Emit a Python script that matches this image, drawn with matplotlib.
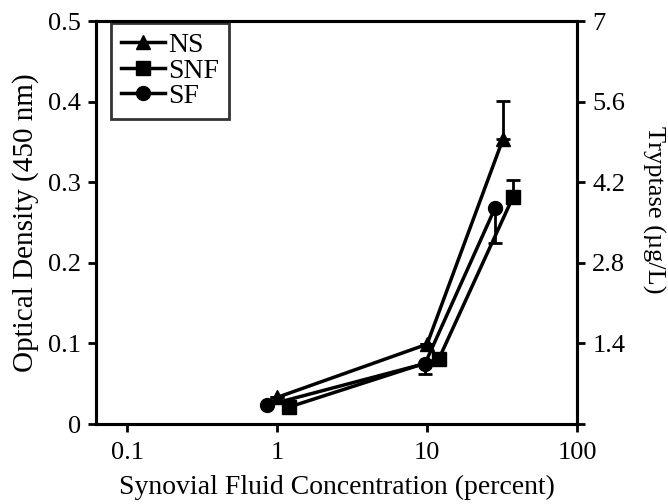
import matplotlib
matplotlib.use('Agg')
import matplotlib.pyplot as plt
from matplotlib.lines import Line2D
import numpy as np

# concentration (percent) and optical density per sample type
ns_x = [1.0, 10.0, 32.0]
ns_y = [0.033, 0.099, 0.353]
ns_err_up = [0.0, 0.0, 0.048]

snf_x = [1.2, 12.0, 37.5]
snf_y = [0.021, 0.081, 0.282]
snf_err_up = [0.0, 0.0, 0.021]

sf_x = [0.85, 9.7, 28.4]
sf_y = [0.023, 0.075, 0.268]
sf_err_down = [0.0, 0.013, 0.044]

x_ticks = [0.1, 1, 10, 100]
x_labels = ['0.1', '1', '10', '100']
od_ticks = [0, 0.1, 0.2, 0.3, 0.4, 0.5]
od_labels = ['0', '0.1', '0.2', '0.3', '0.4', '0.5']
tryp_ticks = [0, 1.4, 2.8, 4.2, 5.6, 7]
tryp_labels = ['', '1.4', '2.8', '4.2', '5.6', '7']

plt.rcParams['font.family'] = ['Liberation Serif', 'DejaVu Serif']

fig = plt.figure(figsize=(6.68, 5.04), dpi=100)
ax = fig.add_axes([0.1437, 0.1587, 0.8638 - 0.1437, 0.9583 - 0.1587])

common = dict(color='black', lw=2.5, ms=10, capsize=5, capthick=2, elinewidth=2)
ax.errorbar(ns_x, ns_y, yerr=[np.zeros(3), ns_err_up], marker='^', **common)
ax.errorbar(snf_x, snf_y, yerr=[np.zeros(3), snf_err_up], marker='s', **common)
ax.errorbar(sf_x, sf_y, yerr=[sf_err_down, np.zeros(3)], marker='o', **common)

ax.set_xscale('log')
ax.set_xlim(0.062, 100)
ax.set_ylim(0, 0.5)
ax.set_xticks(x_ticks)
ax.set_xticklabels(x_labels)
ax.minorticks_off()
ax.set_yticks(od_ticks)
ax.set_yticklabels(od_labels)

ax2 = ax.twinx()
ax2.set_ylim(0, 7)
ax2.set_yticks(tryp_ticks)
ax2.set_yticklabels(tryp_labels)

for a in (ax, ax2):
    for s in a.spines.values():
        s.set_linewidth(2.2)
    a.tick_params(direction='out', length=6, width=2, labelsize=19, pad=5)
ax.tick_params(axis='x', pad=7)

ax.set_xlabel('Synovial Fluid Concentration (percent)', fontsize=20, labelpad=8)
ax.set_ylabel('Optical Density (450 nm)', fontsize=21, labelpad=6)
ax2.set_ylabel('Tryptase (µg/L)', fontsize=19, rotation=-90, ha='center', va='center')
ax2.yaxis.set_label_coords(1.16, 0.531)

# legend shows line + marker only, no error caps
handles = [
    Line2D([], [], color='black', lw=2.5, marker='^', ms=10),
    Line2D([], [], color='black', lw=2.5, marker='s', ms=10),
    Line2D([], [], color='black', lw=2.5, marker='o', ms=10),
]
leg = ax.legend(handles, ['NS', 'SNF', 'SF'], loc='upper left', bbox_to_anchor=(0.031, 0.995),
                fontsize=20, frameon=True, fancybox=False, handlelength=1.6, handletextpad=0.1,
                borderpad=0.35, labelspacing=0.0, borderaxespad=0.0)
leg.get_frame().set_edgecolor('black')
leg.get_frame().set_linewidth(2)

fig.savefig('out.png', dpi=100)
